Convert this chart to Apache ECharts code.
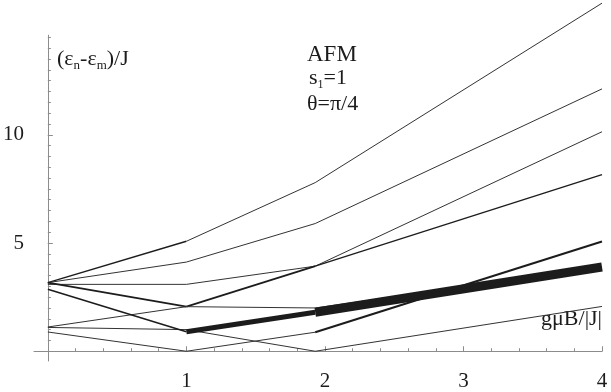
<!DOCTYPE html>
<html>
<head>
<meta charset="utf-8">
<script src="https://cdn.jsdelivr.net/npm/echarts@6/dist/echarts.min.js"></script>
<style>
  html, body { margin: 0; padding: 0; background: #fff; }
  #chart { width: 611px; height: 392px; }
</style>
</head>
<body>
<div id="chart"></div>
<script>
// field values gμB/|J| where the levels kink
var fields = [0, 1, 1.93, 4];

// (εn-εm)/J, one array per line
var levelA = [3.17, 5.08, 7.79, 16.08];
var levelB = [3.17, 4.12, 5.90, 12.12];
var levelC = [3.09, 3.09, 3.93, 10.14];
var levelD = [3.17, 2.06, 3.93, 8.16];
var levelE = [2.86, 0.90, 1.80, 3.89];
var levelF = [1.12, 2.06, 2.00, 3.89];
var levelG = [0.89, 0.00, 0.88, 5.07];
var levelH = [1.10, 1.00, 0.00, 2.07];

var xLabels = [1, 2, 3, 4];
var yLabels = [5, 10];

var serif = 'Liberation Serif, DejaVu Serif, serif';
var ink = '#1c1c1c';
var thin = '#333';
var axisGray = '#8c8c8c';

// minor tick positions
var xMinor = [], yMinor = [];
for (var i = 1; i <= 20; i++) xMinor.push(+(i * 0.2).toFixed(1));
for (var j = 1; j <= 29; j++) yMinor.push(j * 0.5);

// each line is split at the kinks so the stroke width can change
var lines = [
  { vals: levelA, widths: [1.4, 1, 1] },
  { vals: levelB, widths: [1, 1, 1] },
  { vals: levelC, widths: [1, 1, 1] },
  { vals: levelD, widths: [1.8, 1.8, 1.3] },
  { vals: levelF, widths: [1, 1, 1] },
  { vals: levelH, widths: [1, 1, 1] },
  { vals: levelG, widths: [1, 1, 2] },
  { vals: levelE, widths: [1.6, 5, 9] }
];

var series = [];
lines.forEach(function (ln) {
  for (var k = 0; k < fields.length - 1; k++) {
    var w = ln.widths[k];
    series.push({
      type: 'line',
      data: [[fields[k], ln.vals[k]], [fields[k + 1], ln.vals[k + 1]]],
      symbol: 'none',
      clip: false,
      silent: true,
      lineStyle: { color: w > 1.2 ? ink : thin, width: w }
    });
  }
});

var chart = echarts.init(document.getElementById('chart'));
chart.setOption({
  animation: false,
  backgroundColor: '#fff',
  grid: { left: 26, right: 9, top: 35.2, bottom: 30.2 },
  xAxis: [
    {
      type: 'value', min: -0.1, max: 4, position: 'bottom',
      axisLine: { onZero: true, onZeroAxisIndex: 0, lineStyle: { color: axisGray, width: 1 } },
      axisTick: { inside: true, length: 3, customValues: xMinor, lineStyle: { color: axisGray } },
      axisLabel: { customValues: xLabels, margin: 10, fontSize: 21, fontFamily: serif, color: ink },
      splitLine: { show: false }
    },
    {
      type: 'value', min: -0.1, max: 4, position: 'bottom',
      axisLine: { show: false, onZero: true, onZeroAxisIndex: 0 },
      axisTick: { inside: true, length: 5, customValues: xLabels, lineStyle: { color: axisGray } },
      axisLabel: { show: false },
      splitLine: { show: false }
    }
  ],
  yAxis: [
    {
      type: 'value', min: -0.45, max: 14.6, position: 'left',
      axisLine: { onZero: true, onZeroAxisIndex: 0, lineStyle: { color: axisGray, width: 1 } },
      axisTick: { inside: true, length: 3, customValues: yMinor, lineStyle: { color: axisGray } },
      axisLabel: { customValues: yLabels, margin: 10, fontSize: 21, fontFamily: serif, color: ink },
      splitLine: { show: false }
    },
    {
      type: 'value', min: -0.45, max: 14.6, position: 'left',
      axisLine: { show: false, onZero: true, onZeroAxisIndex: 0 },
      axisTick: { inside: true, length: 5, customValues: yLabels, lineStyle: { color: axisGray } },
      axisLabel: { show: false },
      splitLine: { show: false }
    }
  ],
  graphic: [
    {
      type: 'text', left: 57, top: 48,
      style: {
        text: '{a|(ε}{s|n}{a|-ε}{s|m}{a|)/J}',
        fill: ink,
        rich: {
          a: { fontSize: 22, lineHeight: 26, fontFamily: serif, fill: ink },
          s: { fontSize: 13, lineHeight: 13, fontFamily: serif, fill: ink, verticalAlign: 'bottom' }
        }
      }
    },
    {
      type: 'text', left: 307, top: 43,
      style: { text: 'AFM', fontSize: 23, fontFamily: serif, fill: ink }
    },
    {
      type: 'text', left: 309, top: 67,
      style: {
        text: '{a|s}{s|1}{a|=1}',
        fill: ink,
        rich: {
          a: { fontSize: 22, lineHeight: 26, fontFamily: serif, fill: ink },
          s: { fontSize: 12, lineHeight: 12, fontFamily: serif, fill: ink, verticalAlign: 'bottom' }
        }
      }
    },
    {
      type: 'text', left: 307, top: 93,
      style: { text: 'θ=π/4', fontSize: 22, fontFamily: serif, fill: ink }
    },
    {
      type: 'text', right: 9, top: 308,
      style: { text: 'gμB/|J|', fontSize: 22, fontFamily: serif, fill: ink }
    }
  ],
  series: series
});
</script>
</body>
</html>
